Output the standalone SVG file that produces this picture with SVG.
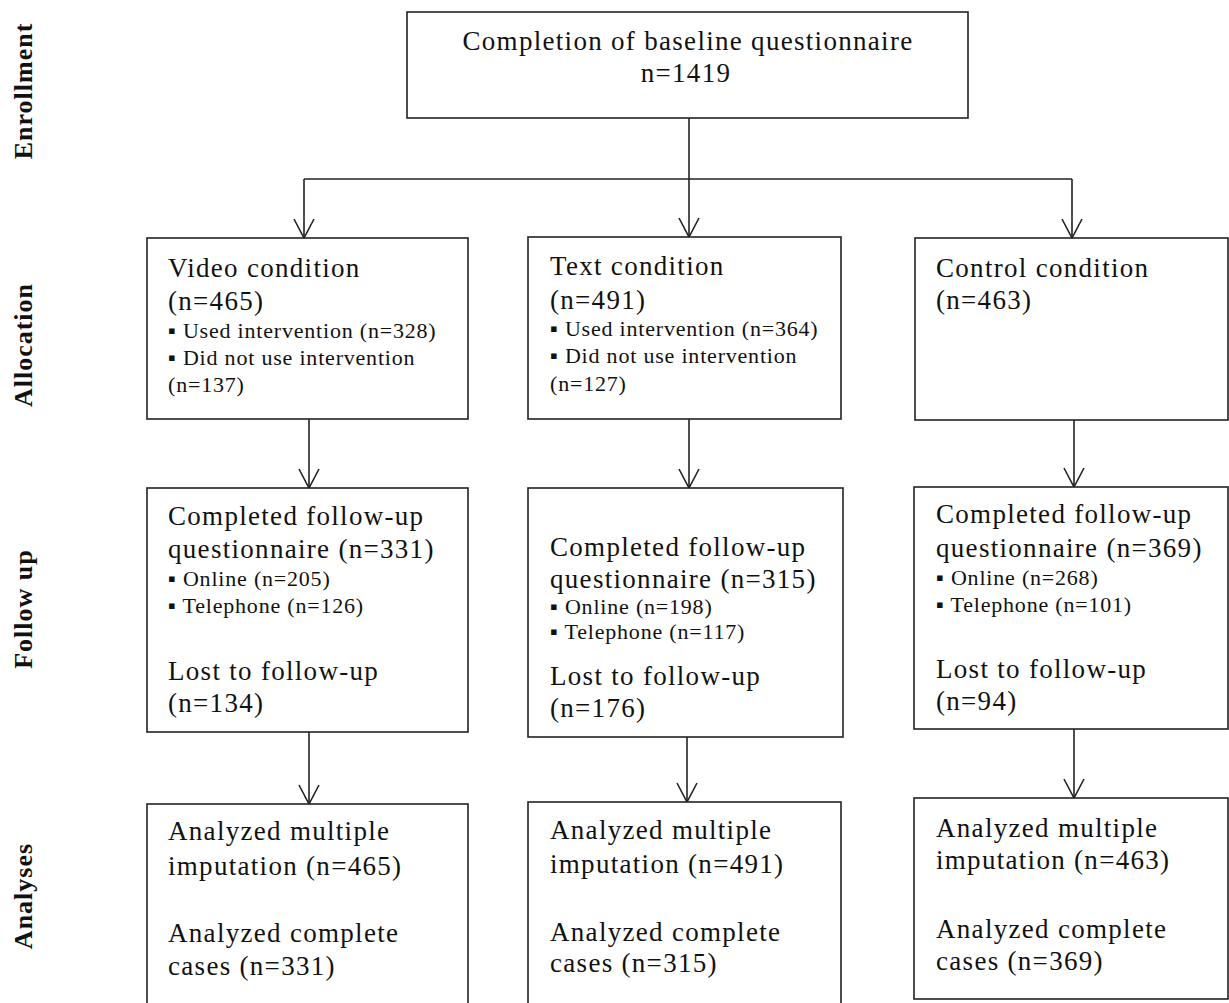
<svg xmlns="http://www.w3.org/2000/svg" width="1229" height="1003" viewBox="0 0 1229 1003">
<style>
.box{fill:#fff;stroke:#222;stroke-width:1.6}
.t{font-family:"Liberation Serif","Times New Roman",serif;font-size:27px;fill:#111;letter-spacing:1.3px}
.s{font-family:"Liberation Serif","Times New Roman",serif;font-size:22px;fill:#111;letter-spacing:0.8px}
.lab{font-family:"Liberation Serif","Times New Roman",serif;font-size:26px;font-weight:bold;fill:#111;letter-spacing:1px}
.c{fill:none;stroke:#222;stroke-width:1.6}
</style>
<defs>
<marker id="v" markerUnits="userSpaceOnUse" markerWidth="26" markerHeight="26" viewBox="-23 -13 26 26" refX="0" refY="0" orient="auto">
<path d="M-19,-10 L0,0 L-19,10" fill="none" stroke="#222" stroke-width="1.6"/>
</marker>
</defs>
<rect width="1229" height="1003" fill="#fff"/>
<g id="labels">
<text class="lab" transform="translate(32,91) rotate(-90)" text-anchor="middle">Enrollment</text>
<text class="lab" transform="translate(32,345) rotate(-90)" text-anchor="middle">Allocation</text>
<text class="lab" transform="translate(32,609) rotate(-90)" text-anchor="middle">Follow up</text>
<text class="lab" transform="translate(32,896) rotate(-90)" text-anchor="middle">Analyses</text>
</g>
<g id="connectors">
<path class="c" d="M689,118 V237" marker-end="url(#v)"/>
<path class="c" d="M304,179 H1072"/>
<path class="c" d="M304,179 V238" marker-end="url(#v)"/>
<path class="c" d="M1072,179 V238" marker-end="url(#v)"/>
<path class="c" d="M309,419 V488" marker-end="url(#v)"/>
<path class="c" d="M689,419 V488" marker-end="url(#v)"/>
<path class="c" d="M1074,420 V487" marker-end="url(#v)"/>
<path class="c" d="M309,732 V804" marker-end="url(#v)"/>
<path class="c" d="M687,737 V802" marker-end="url(#v)"/>
<path class="c" d="M1074,729 V798" marker-end="url(#v)"/>
</g>
<g id="baseline">
<rect class="box" x="407" y="12" width="561" height="106"/>
<text class="t" x="688" y="50" text-anchor="middle">Completion of baseline questionnaire</text>
<text class="t" x="686" y="82" text-anchor="middle">n=1419</text>
</g>
<g id="video-allocation">
<rect class="box" x="147" y="238" width="321" height="181"/>
<text class="t" x="168" y="277">Video condition</text>
<text class="t" x="168" y="310">(n=465)</text>
<text class="s" x="168" y="338">▪ Used intervention (n=328)</text>
<text class="s" x="168" y="365">▪ Did not use intervention</text>
<text class="s" x="168" y="392">(n=137)</text>
</g>
<g id="text-allocation">
<rect class="box" x="528" y="237" width="313" height="182"/>
<text class="t" x="550" y="275">Text condition</text>
<text class="t" x="550" y="309">(n=491)</text>
<text class="s" x="550" y="336">▪ Used intervention (n=364)</text>
<text class="s" x="550" y="363">▪ Did not use intervention</text>
<text class="s" x="550" y="391">(n=127)</text>
</g>
<g id="control-allocation">
<rect class="box" x="915" y="238" width="313" height="182"/>
<text class="t" x="936" y="277">Control condition</text>
<text class="t" x="936" y="309">(n=463)</text>
</g>
<g id="video-followup">
<rect class="box" x="147" y="488" width="321" height="244"/>
<text class="t" x="168" y="525">Completed follow-up</text>
<text class="t" x="168" y="558">questionnaire (n=331)</text>
<text class="s" x="168" y="586">▪ Online (n=205)</text>
<text class="s" x="168" y="613">▪ Telephone (n=126)</text>
<text class="t" x="168" y="680">Lost to follow-up</text>
<text class="t" x="168" y="712">(n=134)</text>
</g>
<g id="text-followup">
<rect class="box" x="528" y="488" width="315" height="249"/>
<text class="t" x="550" y="556">Completed follow-up</text>
<text class="t" x="550" y="588">questionnaire (n=315)</text>
<text class="s" x="550" y="614">▪ Online (n=198)</text>
<text class="s" x="550" y="639">▪ Telephone (n=117)</text>
<text class="t" x="550" y="685">Lost to follow-up</text>
<text class="t" x="550" y="717">(n=176)</text>
</g>
<g id="control-followup">
<rect class="box" x="914" y="487" width="314" height="242"/>
<text class="t" x="936" y="523">Completed follow-up</text>
<text class="t" x="936" y="557">questionnaire (n=369)</text>
<text class="s" x="936" y="585">▪ Online (n=268)</text>
<text class="s" x="936" y="612">▪ Telephone (n=101)</text>
<text class="t" x="936" y="678">Lost to follow-up</text>
<text class="t" x="936" y="710">(n=94)</text>
</g>
<g id="video-analyses">
<rect class="box" x="147" y="804" width="321" height="220"/>
<text class="t" x="168" y="840">Analyzed multiple</text>
<text class="t" x="168" y="875">imputation (n=465)</text>
<text class="t" x="168" y="942">Analyzed complete</text>
<text class="t" x="168" y="975">cases (n=331)</text>
</g>
<g id="text-analyses">
<rect class="box" x="528" y="802" width="313" height="220"/>
<text class="t" x="550" y="839">Analyzed multiple</text>
<text class="t" x="550" y="873">imputation (n=491)</text>
<text class="t" x="550" y="941">Analyzed complete</text>
<text class="t" x="550" y="972">cases (n=315)</text>
</g>
<g id="control-analyses">
<rect class="box" x="914" y="798" width="314" height="201"/>
<text class="t" x="936" y="837">Analyzed multiple</text>
<text class="t" x="936" y="869">imputation (n=463)</text>
<text class="t" x="936" y="938">Analyzed complete</text>
<text class="t" x="936" y="970">cases (n=369)</text>
</g>
</svg>
